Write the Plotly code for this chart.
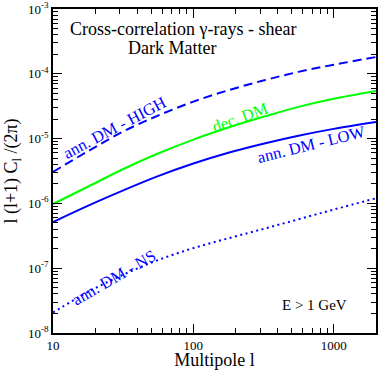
import numpy as np
import plotly.graph_objects as go

# multipole values and read-off log10 spectra
ell = [10, 18, 32, 56, 100, 180, 320, 560, 1000, 2000]
log_high = [-5.515, -5.187, -4.885, -4.645, -4.430, -4.250, -4.100, -3.970, -3.860, -3.741]
log_dec = [-6.009, -5.735, -5.465, -5.230, -5.015, -4.825, -4.660, -4.510, -4.385, -4.265]
log_low = [-6.287, -6.030, -5.795, -5.580, -5.385, -5.215, -5.075, -4.955, -4.850, -4.744]
log_ns = [-7.684, -7.360, -7.095, -6.875, -6.690, -6.535, -6.390, -6.245, -6.095, -5.921]

x_ticks = [10, 100, 1000]
y_ticks = [1e-8, 1e-7, 1e-6, 1e-5, 1e-4, 1e-3]

FONT = "Liberation Serif, Times New Roman, serif"
BLUE = "#0000ff"
GREEN = "#00ff00"

fig = go.Figure()
fig.add_trace(go.Scatter(x=ell, y=10 ** np.array(log_high), mode="lines",
                         line=dict(color=BLUE, width=2, dash="9px,5px", shape="spline")))
fig.add_trace(go.Scatter(x=ell, y=10 ** np.array(log_dec), mode="lines",
                         line=dict(color=GREEN, width=2, shape="spline")))
fig.add_trace(go.Scatter(x=ell, y=10 ** np.array(log_low), mode="lines",
                         line=dict(color=BLUE, width=2, shape="spline")))
fig.add_trace(go.Scatter(x=ell, y=10 ** np.array(log_ns), mode="lines",
                         line=dict(color=BLUE, width=2, dash="2px,3.5px", shape="spline")))

axis_common = dict(type="log", showline=True, linecolor="black", linewidth=1.5,
                   mirror="ticks", ticks="inside", ticklen=9, tickwidth=1.2,
                   tickcolor="black", showgrid=False, zeroline=False, automargin=False,
                   tickfont=dict(family=FONT, size=13, color="black"),
                   minor=dict(ticks="inside", ticklen=5, tickwidth=1, tickcolor="black",
                              dtick="D1", showgrid=False))

fig.update_xaxes(range=[1, np.log10(2000)], tickvals=x_ticks,
                 ticktext=[str(v) for v in x_ticks],
                 title=dict(text="Multipole l", font=dict(family=FONT, size=18), standoff=4),
                 **axis_common)
fig.update_yaxes(range=[-8, -3], tickvals=y_ticks,
                 ticktext=["10<sup>%d</sup>" % int(np.log10(v)) for v in y_ticks],
                 title=dict(text="l (l+1) C<sub>l</sub> /(2π)", font=dict(family=FONT, size=18),
                            standoff=6),
                 **axis_common)


def note(text, px, py, size, color="black", angle=0):
    fig.add_annotation(text=text, x=(px - 53) / 323, y=(333 - py) / 324,
                       xref="paper", yref="paper", xanchor="center", yanchor="middle",
                       showarrow=False, textangle=angle,
                       font=dict(family=FONT, size=size, color=color))


note("Cross-correlation γ-rays - shear", 183, 29, 18)
note("Dark Matter", 172, 48, 18)
note("E > 1 GeV", 314, 305, 15)
note("ann. DM - HIGH", 115, 128, 16.5, BLUE, -28)
note("dec. DM", 240, 117, 16.5, GREEN, -20)
note("ann. DM - LOW", 311, 144, 16.5, BLUE, -14)
note("ann. DM - NS", 114, 277, 16.5, BLUE, -30)

fig.update_layout(width=379, height=370, showlegend=False,
                  margin=dict(l=53, r=3, t=9, b=37),
                  plot_bgcolor="white", paper_bgcolor="white",
                  font=dict(family=FONT, color="black"))

fig.write_html("out.html", config={"displayModeBar": False},
               post_script="document.body.style.margin='0';")
